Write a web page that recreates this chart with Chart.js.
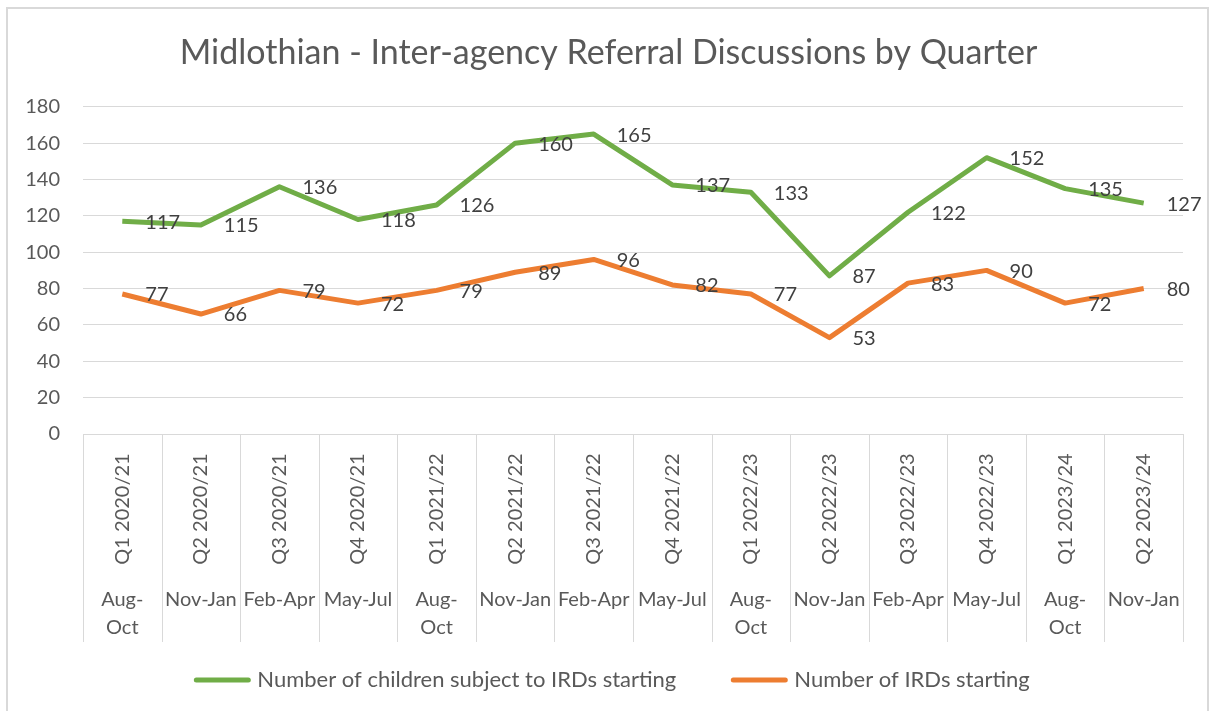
<!DOCTYPE html>
<html>
<head>
<meta charset="utf-8">
<title>Midlothian - Inter-agency Referral Discussions by Quarter</title>
<script src="https://cdn.jsdelivr.net/npm/chart.js@4.4.1/dist/chart.umd.min.js"></script>
<style>
  html, body { margin: 0; padding: 0; background: #ffffff; }
  #wrap { width: 1210px; height: 711px; position: relative; }
</style>
</head>
<body>
<div id="wrap"><canvas id="irdChart"></canvas></div>
<script>
/* Midlothian IRD chart - quarterly line chart with two-level category axis */

var quarters = ['Q1 2020/21', 'Q2 2020/21', 'Q3 2020/21', 'Q4 2020/21',
                'Q1 2021/22', 'Q2 2021/22', 'Q3 2021/22', 'Q4 2021/22',
                'Q1 2022/23', 'Q2 2022/23', 'Q3 2022/23', 'Q4 2022/23',
                'Q1 2023/24', 'Q2 2023/24'];
var monthRanges = ['Aug-Oct', 'Nov-Jan', 'Feb-Apr', 'May-Jul',
                   'Aug-Oct', 'Nov-Jan', 'Feb-Apr', 'May-Jul',
                   'Aug-Oct', 'Nov-Jan', 'Feb-Apr', 'May-Jul',
                   'Aug-Oct', 'Nov-Jan'];
var childrenSubject = [117, 115, 136, 118, 126, 160, 165, 137, 133, 87, 122, 152, 135, 127];
var irdsStarting = [77, 66, 79, 72, 79, 89, 96, 82, 77, 53, 83, 90, 72, 80];
var yMin = 0, yMax = 180, yStep = 20;

var FONT = 'Lato, "Open Sans", sans-serif';
var GRID = '#d9d9d9';

// frame round the whole chart
var framePlugin = {
  id: 'frame',
  beforeDraw: function(chart) {
    var c = chart.ctx;
    c.save();
    c.fillStyle = '#ffffff';
    c.fillRect(0, 0, chart.width, chart.height);
    c.strokeStyle = GRID;
    c.lineWidth = 2;
    c.strokeRect(7, 8, 1201, 740);
    c.restore();
  }
};

// two-level category axis: rotated quarter + month range, with separators
var axisPlugin = {
  id: 'twoLevelAxis',
  afterDraw: function(chart) {
    var c = chart.ctx;
    var x = chart.scales.x;
    var area = chart.chartArea;
    var n = quarters.length;
    var w = (area.right - area.left) / n;
    c.save();
    c.strokeStyle = GRID;
    c.lineWidth = 1;
    for (var i = 0; i <= n; i++) {
      var sx = Math.round(area.left + i * w) + 0.5;
      c.beginPath();
      c.moveTo(sx, area.bottom);
      c.lineTo(sx, area.bottom + 208);
      c.stroke();
    }
    c.fillStyle = '#595959';
    c.font = '20px ' + FONT;
    for (var j = 0; j < n; j++) {
      var cx = x.getPixelForValue(j);
      c.save();
      c.translate(cx, area.bottom + 75);
      c.rotate(-Math.PI / 2);
      c.textAlign = 'center';
      c.textBaseline = 'middle';
      c.fillText(quarters[j], 0, 0);
      c.restore();
      var lines = monthRanges[j] === 'Aug-Oct' ? ['Aug-', 'Oct'] : [monthRanges[j]];
      c.textAlign = 'center';
      c.textBaseline = 'middle';
      for (var k = 0; k < lines.length; k++) {
        c.fillText(lines[k], cx, area.bottom + 166 + k * 28);
      }
    }
    c.restore();
  }
};

// value labels to the right of each point
var valueLabels = {
  id: 'valueLabels',
  afterDatasetsDraw: function(chart) {
    var c = chart.ctx;
    c.save();
    c.fillStyle = '#404040';
    c.font = '20px ' + FONT;
    c.textAlign = 'left';
    c.textBaseline = 'middle';
    chart.data.datasets.forEach(function(ds, di) {
      chart.getDatasetMeta(di).data.forEach(function(pt, i) {
        c.fillText(String(ds.data[i]), pt.x + 23, pt.y + 1);
      });
    });
    c.restore();
  }
};

// legend row at the bottom (line samples + series names)
var bottomLegend = {
  id: 'bottomLegend',
  afterDraw: function(chart) {
    var c = chart.ctx;
    var sets = chart.data.datasets;
    var boxW = 56, gap = 7, spacing = 55, cy = 680, centre = 612;
    c.save();
    c.font = '22px ' + FONT;
    var total = 0;
    sets.forEach(function(ds, i) {
      total += boxW + gap + c.measureText(ds.label).width;
      if (i > 0) total += spacing;
    });
    var xPos = centre - total / 2;
    c.textAlign = 'left';
    c.textBaseline = 'middle';
    sets.forEach(function(ds) {
      c.strokeStyle = ds.borderColor;
      c.lineWidth = 5;
      c.lineCap = 'round';
      c.beginPath();
      c.moveTo(xPos + 2, cy);
      c.lineTo(xPos + boxW - 2, cy);
      c.stroke();
      xPos += boxW + gap;
      c.fillStyle = '#595959';
      c.fillText(ds.label, xPos, cy);
      xPos += c.measureText(ds.label).width + spacing;
    });
    c.restore();
  }
};

new Chart(document.getElementById('irdChart'), {
  type: 'line',
  data: {
    labels: quarters,
    datasets: [
      { label: 'Number of children subject to IRDs starting', data: childrenSubject,
        borderColor: '#70ad47', backgroundColor: '#70ad47', borderWidth: 5,
        pointRadius: 0, tension: 0, borderJoinStyle: 'round' },
      { label: 'Number of IRDs starting', data: irdsStarting,
        borderColor: '#ed7d31', backgroundColor: '#ed7d31', borderWidth: 5,
        pointRadius: 0, tension: 0, borderJoinStyle: 'round' }
    ]
  },
  options: {
    responsive: true,
    maintainAspectRatio: false,
    animation: false,
    layout: { padding: { left: 7, right: 0, top: 33, bottom: 69 } },
    plugins: {
      title: {
        display: true,
        text: 'Midlothian - Inter-agency Referral Discussions by Quarter',
        color: '#595959',
        font: { family: FONT, size: 34, weight: 'normal' },
        padding: { top: 0, bottom: 33 }
      },
      legend: { display: false },
      tooltip: { enabled: false }
    },
    scales: {
      x: {
        offset: true,
        grid: { display: false },
        border: { display: false },
        ticks: { display: false },
        afterFit: function(scale) { scale.height = 208; }
      },
      y: {
        min: yMin,
        max: yMax,
        ticks: { stepSize: yStep, color: '#595959', font: { family: FONT, size: 20 }, padding: 23 },
        grid: { color: GRID, lineWidth: 1, drawTicks: false },
        border: { display: false },
        afterFit: function(scale) { scale.width = 76; }
      },
      // empty right-hand spacer so the plot ends where the reference does
      ySpacer: {
        position: 'right',
        min: yMin,
        max: yMax,
        grid: { display: false },
        border: { display: false },
        ticks: { display: false },
        afterFit: function(scale) { scale.width = 27; }
      }
    }
  },
  plugins: [framePlugin, axisPlugin, valueLabels, bottomLegend]
});
</script>
</body>
</html>
